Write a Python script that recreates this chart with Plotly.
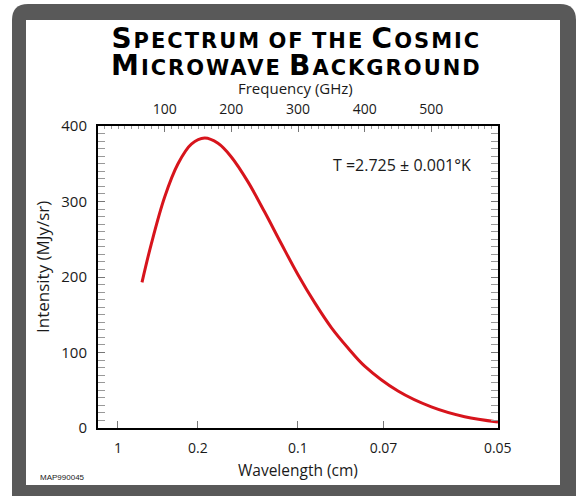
import plotly.graph_objects as go

W, H = 577, 496

# ---- data ----
freq_ghz = [66, 80, 100, 120, 140, 160, 180, 200, 225, 250, 275, 300, 325,
            350, 375, 400, 450, 500, 550, 600]
intensity = [193, 244, 306, 350, 376, 384, 377, 359, 326, 286, 244, 203, 166,
             133, 106, 82, 49, 28, 15, 8]
wavelength_cm = [1, 0.2, 0.1, 0.07, 0.05]
wavelength_labels = ["1", "0.2", "0.1", "0.07", "0.05"]
freq_ticks = [100, 200, 300, 400, 500]
y_ticks = [0, 100, 200, 300, 400]

C_LIGHT = 29.98  # GHz*cm
bottom_tickvals = [C_LIGHT / w for w in wavelength_cm]


def px(x):
    return x / W


def py(y):
    return 1 - y / H


FONT = "Open Sans"
TXT = "#1a1a1a"

fig = go.Figure()
fig.add_trace(go.Scatter(x=freq_ghz, y=intensity, mode="lines",
                         line=dict(color="#d7141c", width=3, shape="spline"),
                         hoverinfo="skip", showlegend=False))
fig.add_trace(go.Scatter(x=[0, 600], y=[0, 0], mode="none", xaxis="x2",
                         hoverinfo="skip", showlegend=False))

X0, X1 = 98, 498
Y0, Y1 = 126, 428

fig.update_layout(
    width=W, height=H,
    margin=dict(l=0, r=0, t=0, b=0, autoexpand=False),
    paper_bgcolor="white", plot_bgcolor="white",
    showlegend=False,
    font=dict(family=FONT, size=13, color=TXT),
    xaxis=dict(domain=[px(X0), px(X1)], range=[0, 600], automargin=False,
               tickvals=bottom_tickvals, ticktext=wavelength_labels,
               ticks="inside", ticklen=7, tickcolor="#777", tickwidth=1,
               showline=True, linecolor="black", linewidth=2,
               showgrid=False, zeroline=False,
               tickfont=dict(family=FONT, size=14, color=TXT),
               ticklabelstandoff=6),
    xaxis2=dict(overlaying="x", anchor="y", side="top", range=[0, 600],
                automargin=False,
                tickvals=freq_ticks, ticks="inside", ticklen=6,
                tickcolor="#777", tickwidth=1,
                minor=dict(dtick=10, ticks="inside", ticklen=3,
                           tickcolor="#999", tickwidth=1),
                showline=True, linecolor="black", linewidth=2,
                showgrid=False, zeroline=False,
                tickfont=dict(family=FONT, size=14, color=TXT),
                ticklabelstandoff=4),
    yaxis=dict(domain=[py(Y1), py(Y0)], range=[0, 400], automargin=False,
               tickvals=y_ticks, ticks="inside", ticklen=7,
               tickcolor="#777", tickwidth=1,
               minor=dict(dtick=10, ticks="inside", ticklen=4,
                          tickcolor="#999", tickwidth=1),
               mirror="allticks",
               showline=True, linecolor="black", linewidth=2,
               showgrid=False, zeroline=False,
               tickfont=dict(family=FONT, size=15, color=TXT),
               ticklabelstandoff=6),
)

# ---- frame (dark rounded border + white panel) ----
r = 16
ox0, oy0, ox1, oy1 = 12, 4, 576, 500
path = (f"M {px(ox0)},{py(oy0 + r)} "
        f"Q {px(ox0)},{py(oy0)} {px(ox0 + r)},{py(oy0)} "
        f"L {px(ox1 - r)},{py(oy0)} "
        f"Q {px(ox1)},{py(oy0)} {px(ox1)},{py(oy0 + r)} "
        f"L {px(ox1)},{py(oy1)} L {px(ox0)},{py(oy1)} Z")
fig.add_shape(type="path", path=path, xref="paper", yref="paper",
              fillcolor="#595959", line=dict(width=0), layer="below")
fig.add_shape(type="rect", xref="paper", yref="paper",
              x0=px(26), x1=px(560), y0=py(485), y1=py(20),
              fillcolor="white", line=dict(width=0), layer="below")

BIG, SMALL, SPACING = 28, 21, 2


def small_caps(words):
    out = []
    for big, rest in words:
        s = ""
        if big:
            s += f"<span style='font-size:{BIG}px;letter-spacing:{SPACING}px'>{big}</span>"
        s += f"<span style='letter-spacing:{SPACING}px'>{rest}</span>"
        out.append(s)
    return " ".join(out)


TITLE_FONT = "DejaVu Sans"
line1 = small_caps([("S", "PECTRUM"), ("", "OF"), ("", "THE"), ("C", "OSMIC")])
line2 = small_caps([("M", "ICROWAVE"), ("B", "ACKGROUND")])
fig.add_annotation(text="<b>" + line1 + "<br>" + line2 + "</b>",
                   x=px(296), y=py(52), xref="paper", yref="paper",
                   xanchor="center", yanchor="middle", showarrow=False,
                   borderpad=0, align="center",
                   font=dict(family=TITLE_FONT, size=SMALL, color="black"))

fig.add_annotation(text="Frequency (GHz)", x=px(295), y=py(88),
                   xref="paper", yref="paper", showarrow=False,
                   xanchor="center", yanchor="middle", borderpad=0,
                   font=dict(family=FONT, size=15, color=TXT))
fig.add_annotation(text="Wavelength (cm)", x=px(298), y=py(470),
                   xref="paper", yref="paper", showarrow=False,
                   xanchor="center", yanchor="middle",
                   font=dict(family=FONT, size=15.5, color=TXT))
fig.add_annotation(text="Intensity (MJy/sr)", x=px(42), y=py(267),
                   xref="paper", yref="paper", showarrow=False, textangle=-90,
                   xanchor="center", yanchor="middle",
                   font=dict(family=FONT, size=17, color=TXT))
fig.add_annotation(text="T =2.725 ± 0.001°K", x=px(473), y=py(165),
                   xref="paper", yref="paper", showarrow=False,
                   xanchor="right", yanchor="middle",
                   font=dict(family=FONT, size=16, color=TXT))
fig.add_annotation(text="MAP990045", x=px(38), y=py(477),
                   xref="paper", yref="paper", showarrow=False,
                   xanchor="left", yanchor="middle",
                   font=dict(family="Liberation Sans", size=8, color=TXT))

fig.write_html("out.html")
